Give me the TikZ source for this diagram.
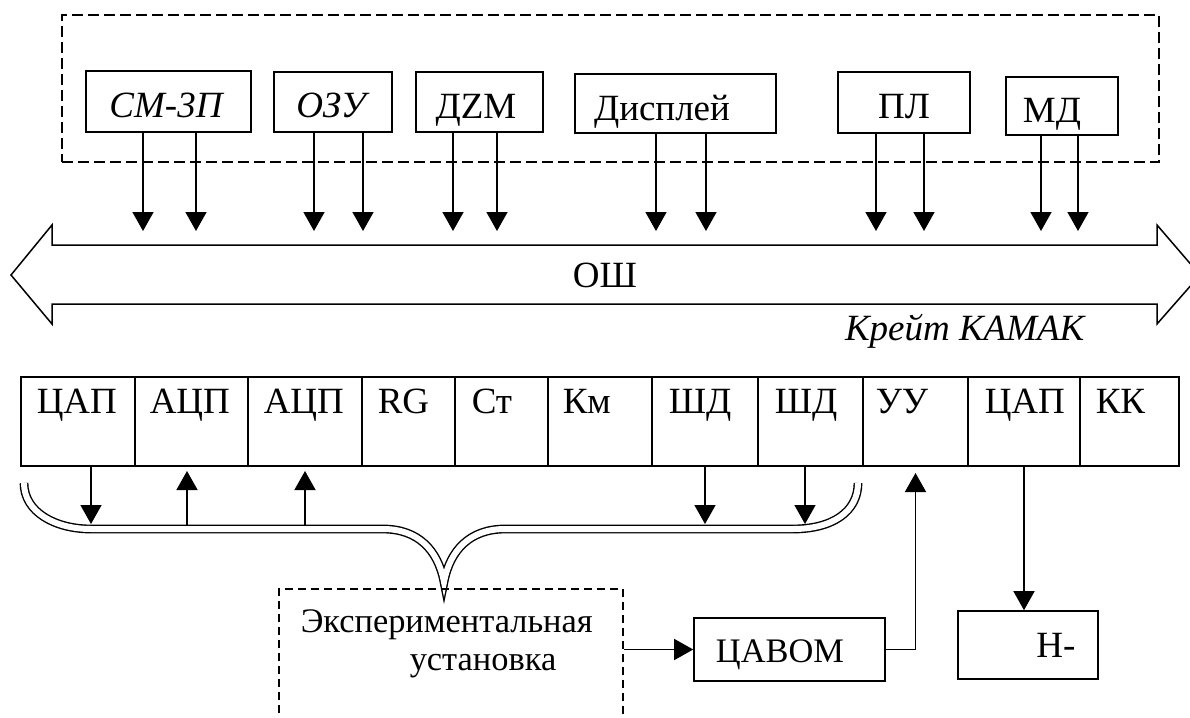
\documentclass[tikz,border=0pt]{standalone}
\usepackage{fontspec}
\setmainfont{Liberation Serif}
\usetikzlibrary{arrows.meta,positioning,fit}

\begin{document}
\begin{tikzpicture}[
    x=0.5pt, y=-0.5pt,
    font=\fontsize{18.5}{21}\selectfont,
    line width=0.75pt,
    box/.style={draw, line width=0.8pt, inner sep=0pt},
    cell/.style={draw, line width=1pt, inner sep=0pt},
    grp/.style={draw, line width=0.75pt, dash pattern=on 5.5pt off 2.5pt, inner sep=0pt},
    expbox/.style={draw, line width=0.75pt, dash pattern=on 4pt off 2.5pt, inner sep=0pt},
    arr/.style={-{Triangle[length=9.5pt, width=10.5pt]}, line width=0.75pt},
    dbl/.style={double, double distance=3pt, line width=0.7pt},
    lbl/.style={inner sep=0pt, anchor=base},
    small/.style={font=\fontsize{17.2}{20}\selectfont}
]
    \useasboundingbox (0,0) rectangle (1190,718);
    \clip (0,0) rectangle (1190,718);

    % computer part
    \node[grp, fit={(62,15)(1159,162)}] (comp) {};
    \node[box, fit={(86,71)(251,132)}] (sm) {};
    \node[box, fit={(274,72)(392,132)}] (ozu) {};
    \node[box, fit={(416,72)(543,132)}] (dzm) {};
    \node[box, fit={(575,74)(776,133)}] (disp) {};
    \node[box, fit={(838,72)(970,133)}] (pl) {};
    \node[box, fit={(1006,77)(1118,135)}] (md) {};
    \node[lbl] (tsm) at (166,117) {\itshape СМ-3П};
    \node[lbl] (tozu) at (331,117) {\itshape ОЗУ};
    \node[lbl] (tdzm) at (476,118) {ДZM};
    \node[lbl] (tdisp) at (662,120) {Дисплей};
    \node[lbl] (tpl) at (904,118) {ПЛ};
    \node[lbl] (tmd) at (1052,122) {МД};

    \foreach \nm/\x [count=\i] in {sm/143, sm/196, ozu/314, ozu/363, dzm/453, dzm/497,
        disp/656, disp/706, pl/876, pl/924, md/1041, md/1078} {
        \coordinate (tip\i) at (\x,231);
        \draw[arr] (\nm.south -| tip\i) -- (tip\i);
    }

    % bus
    \draw (11,275) -- (52,225) -- (52,245) -- (1157,245) -- (1157,225) -- (1200,275)
        -- (1157,324) -- (1157,304) -- (52,304) -- (52,324) -- cycle;
    \node[lbl] (osh) at (605,287) {ОШ};
    \node[lbl, anchor=base east, font=\fontsize{18.5}{21}\selectfont\itshape] (kamak)
        at (1085,340) {Крейт КАМАК};

    % crate modules
    \foreach \l/\r/\tx/\txt/\nm in {21/135/36/ЦАП/cA, 135/248/149/АЦП/cB,
        248/362/263/АЦП/cC, 362/455/377/RG/cD, 455/548/471/Ст/cE, 548/652/562/Км/cF,
        652/758/668/ШД/cG, 758/863/774/ШД/cH, 863/968/875/УУ/cI, 968/1080/984/ЦАП/cJ,
        1080/1179/1095/КК/cK} {
        \node[cell, fit={(\l,377)(\r,466)}] (\nm) {};
        \node[lbl, anchor=base west] (t\nm) at (\tx,413) {\txt};
    }

    % signal lines to the setup
    \draw[dbl] (24,483) .. controls (24,512) and (55,529) .. (91,529) -- (383,529)
        .. controls (418,529) and (438,550) .. (444,582)
        .. controls (450,550) and (470,529) .. (505,529) -- (793,529)
        .. controls (832,529) and (858,512) .. (858,483);

    \coordinate (b1) at (91,524);
    \coordinate (b2) at (187,526);
    \coordinate (b3) at (305,526);
    \coordinate (b4) at (705,524);
    \coordinate (b5) at (805,524);
    \draw[arr] (cA.south -| b1) -- (b1);
    \draw[arr, shorten >=2pt] (b2) -- (cB.south -| b2);
    \draw[arr, shorten >=2pt] (b3) -- (cC.south -| b3);
    \draw[arr] (cG.south -| b4) -- (b4);
    \draw[arr] (cH.south -| b5) -- (b5);

    % experimental setup
    \node[expbox, fit={(279,589)(623,760)}] (exp) {};
    \node[lbl, small, anchor=base west] (expA) at (300,632) {Экспериментальная};
    \node[lbl, small, anchor=base west] (expB) at (409,670) {установка};

    \node[box, fit={(694,618)(885,681)}] (cavom) {};
    \node[box, fit={(958,611)(1098,679)}] (hbox) {};
    \node[lbl, small] (tcavom) at (780,662) {ЦАВОМ};
    \node[lbl] (thbox) at (1056,657) {Н-};

    \draw[arr] (exp.east |- cavom.west) -- (cavom.west);
    \draw[arr, shorten >=3pt] (cavom.east) -| (cI.south);
    \draw[arr] (cJ.south) -- (cJ.south |- hbox.north);
\end{tikzpicture}
\end{document}
